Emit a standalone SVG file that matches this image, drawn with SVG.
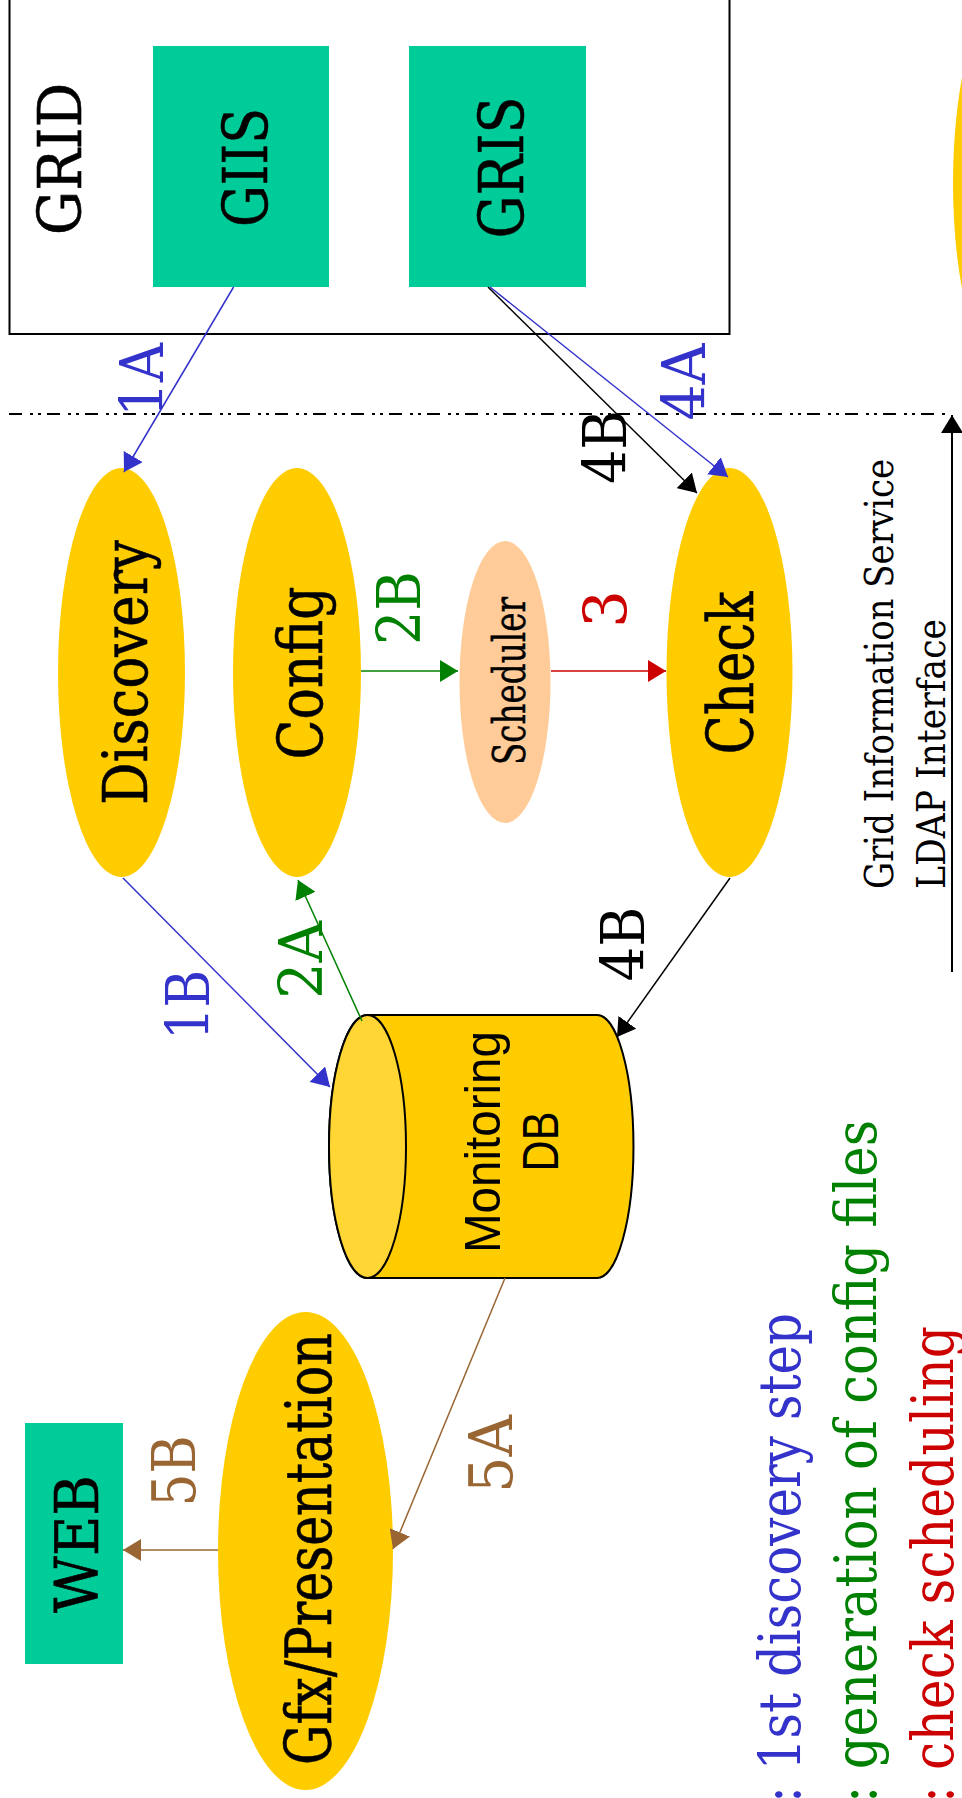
<svg xmlns="http://www.w3.org/2000/svg" width="962" height="1798" viewBox="0 0 962 1798">
<style>
.serif{font-family:"DejaVu Serif","Liberation Serif",serif;}
.sans{font-family:"Liberation Sans",Arial,sans-serif;}
.gold{fill:#FFCC00;}
.teal{fill:#00CC99;}
.lbl{font-size:59px;}
.node{font-size:61px;fill:#000;stroke:#000;stroke-width:0.6;}
.c{fill:none;stroke-width:1.5;}
</style>
<defs>
<marker id="mb" viewBox="0 0 18 22" refX="18" refY="11" markerWidth="18" markerHeight="22" markerUnits="userSpaceOnUse" orient="auto"><path d="M0,0 L18,11 L0,22 z" fill="#3333CC"/></marker>
<marker id="mg" viewBox="0 0 18 22" refX="18" refY="11" markerWidth="18" markerHeight="22" markerUnits="userSpaceOnUse" orient="auto"><path d="M0,0 L18,11 L0,22 z" fill="#008000"/></marker>
<marker id="mr" viewBox="0 0 18 22" refX="18" refY="11" markerWidth="18" markerHeight="22" markerUnits="userSpaceOnUse" orient="auto"><path d="M0,0 L18,11 L0,22 z" fill="#CC0000"/></marker>
<marker id="mk" viewBox="0 0 18 22" refX="18" refY="11" markerWidth="18" markerHeight="22" markerUnits="userSpaceOnUse" orient="auto"><path d="M0,0 L18,11 L0,22 z" fill="#000"/></marker>
<marker id="mn" viewBox="0 0 18 22" refX="18" refY="11" markerWidth="18" markerHeight="22" markerUnits="userSpaceOnUse" orient="auto"><path d="M0,0 L18,11 L0,22 z" fill="#996633"/></marker>
</defs>
<rect width="962" height="1798" fill="#fff"/>

<g id="grid">
<rect x="9.5" y="-10" width="720" height="344" fill="none" stroke="#000" stroke-width="2"/>
<text class="serif node" transform="translate(81,159) rotate(-90)" text-anchor="middle" style="font-size:59px" textLength="152" lengthAdjust="spacingAndGlyphs">GRID</text>
</g>
<g id="giis">
<rect class="teal" x="153" y="46" width="176" height="241"/>
<text class="serif node" transform="translate(266.5,167.5) rotate(-90)" text-anchor="middle" textLength="119" lengthAdjust="spacingAndGlyphs">GIIS</text>
</g>
<g id="gris">
<rect class="teal" x="409" y="46" width="177" height="241"/>
<text class="serif node" transform="translate(523,167.5) rotate(-90)" text-anchor="middle" style="font-size:62px" textLength="142" lengthAdjust="spacingAndGlyphs">GRIS</text>
</g>
<g id="offscreen">
<ellipse class="gold" cx="1016" cy="183" rx="63" ry="205"/>
</g>
<g id="discovery">
<ellipse class="gold" cx="121.5" cy="672.5" rx="63.5" ry="204.5"/>
<text class="serif node" transform="translate(147,672.5) rotate(-90)" text-anchor="middle" textLength="265" lengthAdjust="spacingAndGlyphs">Discovery</text>
</g>
<g id="config">
<ellipse class="gold" cx="297" cy="672.5" rx="64" ry="204.5"/>
<text class="serif node" transform="translate(322,673) rotate(-90)" text-anchor="middle" textLength="173" lengthAdjust="spacingAndGlyphs">Config</text>
</g>
<g id="scheduler">
<ellipse cx="505" cy="682" rx="45.5" ry="141" fill="#FFCC99"/>
<text class="serif node" transform="translate(524.5,681) rotate(-90)" text-anchor="middle" style="font-size:45px;stroke-width:0.4" textLength="168" lengthAdjust="spacingAndGlyphs">Scheduler</text>
</g>
<g id="check">
<ellipse class="gold" cx="729.5" cy="672.5" rx="63" ry="204.5"/>
<text class="serif node" transform="translate(753,673) rotate(-90)" text-anchor="middle" style="font-size:64px" textLength="163" lengthAdjust="spacingAndGlyphs">Check</text>
</g>
<g id="monitoring-db">
<path d="M367.5,1015 H597 A36.5,131.5 0 0 1 597,1278 H367.5 A38.5,131.5 0 0 1 367.5,1015 Z" fill="#FFCC00" stroke="#000" stroke-width="2"/>
<ellipse cx="367.5" cy="1146.5" rx="38.5" ry="131.5" fill="#FFD633" stroke="#000" stroke-width="2"/>
<text class="sans" transform="translate(500,1142) rotate(-90)" text-anchor="middle" font-size="50" textLength="222" lengthAdjust="spacingAndGlyphs">Monitoring</text>
<text class="sans" transform="translate(558,1141.5) rotate(-90)" text-anchor="middle" font-size="50" textLength="60" lengthAdjust="spacingAndGlyphs">DB</text>
</g>
<g id="gfx">
<ellipse class="gold" cx="305.5" cy="1551" rx="87.5" ry="239"/>
<text class="serif node" transform="translate(331,1549) rotate(-90)" text-anchor="middle" style="font-size:64px" textLength="432" lengthAdjust="spacingAndGlyphs">Gfx/Presentation</text>
</g>
<g id="web">
<rect class="teal" x="25" y="1423" width="98" height="241"/>
<text class="serif node" transform="translate(98,1544) rotate(-90)" text-anchor="middle" style="font-size:59px" textLength="138" lengthAdjust="spacingAndGlyphs">WEB</text>
</g>

<g id="connectors">
<line x1="9" y1="414" x2="950" y2="414" stroke="#000" stroke-width="2" stroke-dasharray="13 8 3 5 3 6"/>
<line x1="952" y1="972" x2="952" y2="415" stroke="#000" stroke-width="2" marker-end="url(#mk)"/>
<line class="c" x1="233.6" y1="287" x2="124" y2="472" stroke="#3333CC" marker-end="url(#mb)"/>
<line class="c" x1="123" y1="878" x2="330" y2="1087" stroke="#3333CC" marker-end="url(#mb)"/>
<line class="c" x1="362" y1="1021" x2="298" y2="880" stroke="#008000" marker-end="url(#mg)"/>
<line class="c" x1="361" y1="671" x2="458" y2="671" stroke="#008000" marker-end="url(#mg)"/>
<line class="c" x1="551" y1="671" x2="666" y2="671" stroke="#CC0000" marker-end="url(#mr)"/>
<line class="c" x1="490" y1="287" x2="728" y2="477" stroke="#3333CC" marker-end="url(#mb)"/>
<line class="c" x1="488" y1="287" x2="697" y2="493" stroke="#000" marker-end="url(#mk)"/>
<line class="c" x1="730" y1="878" x2="617" y2="1037" stroke="#000" marker-end="url(#mk)"/>
<line class="c" x1="505" y1="1278" x2="393" y2="1549" stroke="#996633" marker-end="url(#mn)"/>
<line class="c" x1="218" y1="1550" x2="123" y2="1550" stroke="#996633" marker-end="url(#mn)"/>
</g>

<g id="labels" class="serif lbl" text-anchor="middle">
<text transform="translate(163,380) rotate(-90)" fill="#3333CC" textLength="74" lengthAdjust="spacingAndGlyphs">1A</text>
<text transform="translate(705,382) rotate(-90)" fill="#3333CC" textLength="77" lengthAdjust="spacingAndGlyphs">4A</text>
<text transform="translate(626,447) rotate(-90)" fill="#000" textLength="74" lengthAdjust="spacingAndGlyphs">4B</text>
<text transform="translate(420,608) rotate(-90)" fill="#008000" textLength="74" lengthAdjust="spacingAndGlyphs">2B</text>
<text transform="translate(627,609) rotate(-90)" fill="#CC0000">3</text>
<text transform="translate(209,1005) rotate(-90)" fill="#3333CC" textLength="70" lengthAdjust="spacingAndGlyphs">1B</text>
<text transform="translate(322,960) rotate(-90)" fill="#008000" textLength="78" lengthAdjust="spacingAndGlyphs">2A</text>
<text transform="translate(644,944) rotate(-90)" fill="#000" textLength="75" lengthAdjust="spacingAndGlyphs">4B</text>
<text transform="translate(512,1454) rotate(-90)" fill="#996633" textLength="78" lengthAdjust="spacingAndGlyphs">5A</text>
<text transform="translate(195,1471) rotate(-90)" fill="#996633" textLength="71" lengthAdjust="spacingAndGlyphs">5B</text>
</g>

<g id="gis-note" class="serif" font-size="40">
<text transform="translate(893,889) rotate(-90)" textLength="430" lengthAdjust="spacingAndGlyphs">Grid Information Service</text>
<text transform="translate(945,889) rotate(-90)" textLength="270" lengthAdjust="spacingAndGlyphs">LDAP Interface</text>
</g>

<g id="legend" class="serif" font-size="58">
<text transform="translate(800,1803) rotate(-90)" fill="#3333CC" textLength="490" lengthAdjust="spacingAndGlyphs">: 1st discovery step</text>
<text transform="translate(876,1803) rotate(-90)" fill="#008000" textLength="683" lengthAdjust="spacingAndGlyphs">: generation of config files</text>
<text transform="translate(953,1803) rotate(-90)" fill="#CC0000" textLength="477" lengthAdjust="spacingAndGlyphs">: check scheduling</text>
</g>
</svg>
